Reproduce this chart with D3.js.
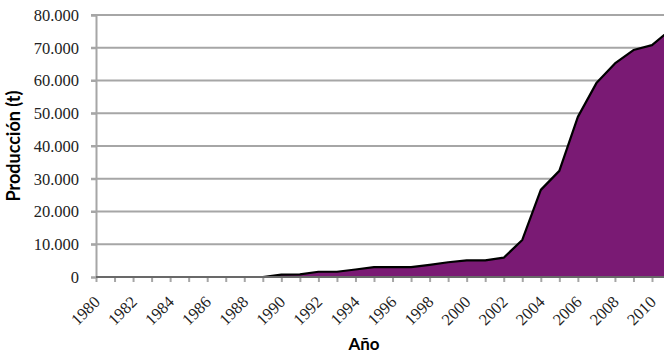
<!DOCTYPE html>
<html><head><meta charset="utf-8">
<script src="https://cdn.jsdelivr.net/npm/d3@7"></script>
<style>body{margin:0;background:#fff}svg{display:block}</style>
</head><body>
<svg id="c" width="664" height="358"></svg>
<script>
(function(){
const years = d3.range(1980, 2012);
const production = [0,0,0,0,0,0,0,0,0,0,700,800,1600,1600,2300,3000,3000,3000,3700,4500,5100,5100,5900,11300,26600,32400,48900,59200,65200,69300,70800,75500];
const yTicks = [0,10000,20000,30000,40000,50000,60000,70000,80000];
const xLabelYears = d3.range(1980, 2011, 2);

const svg = d3.select("#c");
const mLeft = 96, mTop = 15, mBottom = 277;
const x = d3.scaleLinear().domain([1980, 2010]).range([mLeft, 652]);
const y = d3.scaleLinear().domain([0, 80000]).range([mBottom, mTop]);
const grid = "#a6a6a6";
const fmt = v => d3.format(",")(v).replace(/,/g, ".");

// gridlines
svg.append("g").selectAll("line").data(yTicks.filter(d=>d>0)).join("line")
  .attr("x1", mLeft-5).attr("x2", 664).attr("y1", d=>y(d)).attr("y2", d=>y(d))
  .attr("stroke", grid).attr("stroke-width", 2);

// area
const data = years.map((yr,i)=>({yr, v: production[i]}));
svg.append("path").datum(data)
  .attr("d", d3.area().x(d=>x(d.yr)).y0(y(0)).y1(d=>y(d.v)))
  .attr("fill", "#7a1a74");
svg.append("path").datum(data)
  .attr("d", d3.line().x(d=>x(d.yr)).y(d=>y(d.v)))
  .attr("fill", "none").attr("stroke", "#000").attr("stroke-width", 2.2).attr("stroke-linejoin","round");

// y axis
const ya = svg.append("g").attr("transform", `translate(${mLeft},0)`)
  .call(d3.axisLeft(y).tickValues(yTicks).tickFormat(fmt).tickSize(5).tickPadding(12));
ya.select(".domain").attr("stroke", grid).attr("stroke-width", 2);
ya.selectAll(".tick line").attr("stroke", grid).attr("stroke-width", 2);
ya.selectAll("text").attr("font-family", "'Liberation Serif', serif").attr("font-size", 16.5).attr("fill", "#222");

// x axis
const xa = svg.append("g").attr("transform", `translate(0,${mBottom})`)
  .call(d3.axisBottom(x).tickValues(d3.range(1980, 2012)).tickFormat("").tickSize(5).tickSizeOuter(0));
xa.select(".domain").attr("stroke", grid).attr("stroke-width", 2).attr("d", `M${mLeft},0H664`);
xa.selectAll(".tick line").attr("stroke", grid).attr("stroke-width", 2);
svg.append("line").attr("x1", mLeft).attr("x2", 664).attr("y1", y(0)).attr("y2", y(0))
  .attr("stroke", "#555").attr("stroke-width", 1.5);

svg.append("g").selectAll("text").data(xLabelYears).join("text")
  .attr("transform", d=>`translate(${x(d)+5},${mBottom+26}) rotate(-45)`)
  .attr("text-anchor", "end")
  .attr("font-family", "'Liberation Serif', serif").attr("font-size", 16.5).attr("fill", "#222")
  .text(d=>d);

// axis titles
svg.append("text").attr("transform", "translate(20,146) rotate(-90)")
  .attr("text-anchor", "middle").attr("font-family", "Lato, 'Open Sans', sans-serif")
  .attr("font-weight", "bold").attr("font-size", 18).attr("fill", "#000").text("Producción (t)");
svg.append("text").attr("x", 364).attr("y", 350)
  .attr("text-anchor", "middle").attr("font-family", "Lato, 'Open Sans', sans-serif")
  .attr("font-weight", "bold").attr("font-size", 17).attr("fill", "#000").text("Año");
})();
</script>
</body></html>
